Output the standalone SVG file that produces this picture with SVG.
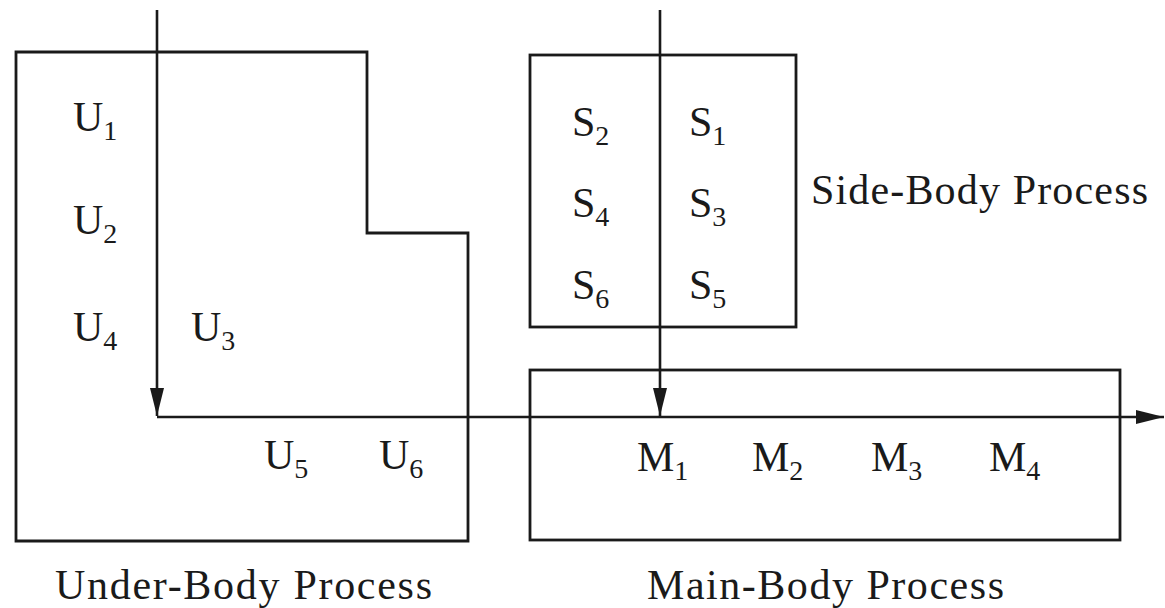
<svg xmlns="http://www.w3.org/2000/svg" width="1165" height="608" viewBox="0 0 1165 608">
  <style>
    .box { fill: none; stroke: #1a1a1a; stroke-width: 2.8; }
    .flow { fill: none; stroke: #1a1a1a; stroke-width: 2.6; }
    .lbl { font-family: "Liberation Serif", "DejaVu Serif", serif; font-size: 42px; fill: #1a1a1a; }
    .sub { font-size: 28px; }
    .cap { font-family: "Liberation Serif", "DejaVu Serif", serif; font-size: 42px; fill: #1a1a1a; }
  </style>
  <defs>
    <marker id="arrow" viewBox="0 0 28 14" refX="28" refY="7" markerWidth="28" markerHeight="14" markerUnits="userSpaceOnUse" orient="auto">
      <path d="M0,0 L28,7 L0,14 Z" fill="#1a1a1a"/>
    </marker>
  </defs>
  <rect width="1165" height="608" fill="#ffffff"/>

  <!-- Under-body process area (stepped outline) -->
  <g id="under-body">
    <path class="box" d="M16,52 H367 V233 H468 V541 H16 Z"/>
    <text class="lbl" x="73" y="131">U<tspan class="sub" dy="9">1</tspan></text>
    <text class="lbl" x="73" y="234">U<tspan class="sub" dy="9">2</tspan></text>
    <text class="lbl" x="73" y="341">U<tspan class="sub" dy="9">4</tspan></text>
    <text class="lbl" x="191" y="341">U<tspan class="sub" dy="9">3</tspan></text>
    <text class="lbl" x="264" y="469">U<tspan class="sub" dy="9">5</tspan></text>
    <text class="lbl" x="379" y="469">U<tspan class="sub" dy="9">6</tspan></text>
    <text class="cap" x="55" y="599" textLength="377">Under-Body Process</text>
  </g>

  <!-- Side-body process area -->
  <g id="side-body">
    <rect class="box" x="530" y="55" width="266" height="272"/>
    <text class="lbl" x="572" y="136">S<tspan class="sub" dy="9">2</tspan></text>
    <text class="lbl" x="689" y="136">S<tspan class="sub" dy="9">1</tspan></text>
    <text class="lbl" x="572" y="217">S<tspan class="sub" dy="9">4</tspan></text>
    <text class="lbl" x="689" y="217">S<tspan class="sub" dy="9">3</tspan></text>
    <text class="lbl" x="572" y="299">S<tspan class="sub" dy="9">6</tspan></text>
    <text class="lbl" x="689" y="299">S<tspan class="sub" dy="9">5</tspan></text>
    <text class="cap" x="811" y="204" textLength="337">Side-Body Process</text>
  </g>

  <!-- Main-body process area -->
  <g id="main-body">
    <rect class="box" x="530" y="370" width="590" height="170"/>
    <text class="lbl" x="637" y="471">M<tspan class="sub" dy="9">1</tspan></text>
    <text class="lbl" x="752" y="471">M<tspan class="sub" dy="9">2</tspan></text>
    <text class="lbl" x="871" y="471">M<tspan class="sub" dy="9">3</tspan></text>
    <text class="lbl" x="989" y="471">M<tspan class="sub" dy="9">4</tspan></text>
    <text class="cap" x="647" y="599" textLength="357">Main-Body Process</text>
  </g>

  <!-- Material flow lines -->
  <g id="connectors">
    <line class="flow" x1="157" y1="10" x2="157" y2="416" marker-end="url(#arrow)"/>
    <line class="flow" x1="660" y1="10" x2="660" y2="416" marker-end="url(#arrow)"/>
    <line class="flow" x1="157" y1="417" x2="1164" y2="417" marker-end="url(#arrow)"/>
  </g>
</svg>
